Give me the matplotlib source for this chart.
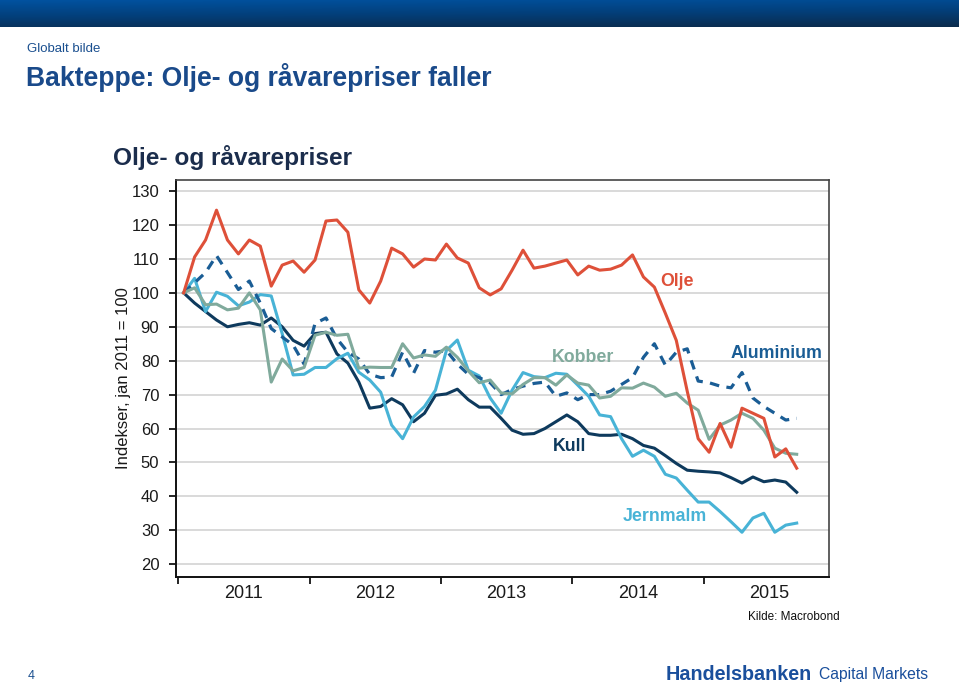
import numpy as np
import matplotlib
matplotlib.use('Agg')
import matplotlib.pyplot as plt
from matplotlib.colors import LinearSegmentedColormap

plt.rcParams['font.family'] = ['Liberation Sans', 'DejaVu Sans']

# monthly index, jan 2011 = 100 (jan 2011 - sep 2015)
olje = [100, 110.6, 115.6, 124.4, 115.6, 111.5, 115.6, 113.8, 102, 108.2,
        109.4, 106.1, 109.7, 121.2, 121.5, 117.9, 100.9, 97, 103.5, 113.2,
        111.5, 107.6, 110, 109.7, 114.4, 110.3, 108.8, 101.5, 99.4, 101.2,
        106.7, 112.6, 107.3, 107.9, 108.8, 109.7, 105.3, 107.9, 106.7, 107,
        108.2, 111.2, 104.7, 101.7, 94, 86, 71, 57, 53, 61.5,
        54.5, 66, 64.5, 63, 51.6, 54, 48.3]
aluminium = [100, 103, 106, 111, 106, 101, 103.5, 97, 89.5, 87,
             84.6, 79, 91, 92.6, 86.5, 82.5, 80.5, 76, 75, 75.2,
             82.5, 76.3, 83, 82.5, 83, 79, 76, 75, 73.5, 70,
             71.5, 72.5, 73.3, 73.7, 69.5, 70.5, 68.5, 70, 70, 71,
             73, 75, 81, 85, 78.7, 82.5, 83.5, 74, 73.5, 72.5,
             72, 76.5, 69, 66.5, 64.5, 62.5, 63]
kobber = [100, 101.5, 96.5, 96.7, 95, 95.5, 100, 95, 73.7, 80.5,
          77, 78, 87.5, 88.4, 87.5, 87.8, 77.8, 78.1, 78, 78,
          85, 80.8, 81.7, 81.3, 84, 81, 77, 73.5, 74.3, 70.5,
          70.2, 73, 75, 75, 72.8, 75.8, 73.4, 72.8, 69, 69.5,
          72, 71.9, 73.4, 72.2, 69.5, 70.4, 67.5, 65.4, 56.8, 61,
          62.5, 64.5, 63, 59.5, 54.2, 52.7, 52.4]
kull = [100, 97, 94.5, 92, 90, 90.7, 91.2, 90.5, 92.6, 90,
        86, 84.3, 88, 88.4, 82, 79.3, 73.7, 66, 66.5, 68.8,
        67, 62, 64.5, 69.8, 70.2, 71.6, 68.5, 66.3, 66.3, 63,
        59.5, 58.3, 58.5, 60, 62, 64, 62, 58.5, 58, 58,
        58.3, 57, 55, 54.2, 52, 49.7, 47.7, 47.4, 47.2, 46.9,
        45.5, 43.9, 45.7, 44.3, 44.8, 44.2, 41.2]
jernmalm = [100, 104.3, 94.5, 100.2, 99, 96.2, 97.3, 99.5, 99.1, 88,
            75.8, 76, 78, 78, 80.6, 82.2, 76.6, 74.3, 70.7, 61,
            57, 63.4, 66.5, 71.3, 83, 86.1, 77.2, 75.5, 69, 64.5,
            71.3, 76.5, 75.3, 75, 76.3, 76, 72.8, 69.5, 64, 63.5,
            57, 51.8, 53.6, 51.8, 46.5, 45.4, 41.8, 38.3, 38.3, 35.5,
            32.5, 29.4, 33.6, 35, 29.4, 31.5, 32.1]
years = ['2011', '2012', '2013', '2014', '2015']

W, H = 959, 686
fig = plt.figure(figsize=(W / 100.0, H / 100.0), dpi=100)
fig.patch.set_facecolor('white')

def fx(px):
    return px / float(W)

def fy(py):
    return 1 - py / float(H)

# banner on top
ban = fig.add_axes([0, fy(27), 1, 27.0 / H])
cmap = LinearSegmentedColormap.from_list('ban', ['#0152a0', '#033f7a', '#0b2b4c'])
g = np.linspace(0, 1, 60)[:, None] * np.ones((1, 200))
g = g + np.linspace(0, 0.25, 200)[None, :]
ban.imshow(g, aspect='auto', cmap=cmap, vmin=0, vmax=1.25, extent=[0, 1, 0, 1])
ban.axis('off')

blue = '#1a4f8f'
fig.text(fx(27), fy(49), 'Globalt bilde', fontsize=9.5, color=blue, va='center')
fig.text(fx(26), fy(78), 'Bakteppe: Olje- og råvarepriser faller', fontsize=19.1,
         fontweight='bold', color='#1a4a8a', va='center')
fig.text(fx(113), fy(158), 'Olje- og råvarepriser', fontsize=17.6, fontweight='bold',
         color='#1b2d4c', va='center')

# chart
ax = fig.add_axes([fx(176), fy(577), fx(829) - fx(176), (577 - 180) / float(H)])
x = np.arange(len(olje)) + 0.5

ax.plot(x, kull, color='#0e3a5d', lw=2.2)
ax.plot(x, jernmalm, color='#48b3d6', lw=2.2)
ax.plot(x, aluminium, color='#1a5d95', lw=2.3, dashes=(3, 2.3))
ax.plot(x, kobber, color='#80aa9c', lw=2.2)
ax.plot(x, olje, color='#de5039', lw=2.2)

ax.set_xlim(-0.2, 59.45)
ax.set_ylim(16.2, 133.3)
ax.set_yticks(np.arange(20, 131, 10))
ax.yaxis.grid(True, color='#cfcfcf', lw=1.1)
ax.set_axisbelow(True)
ax.set_xticks([0, 12, 24, 36, 48])
ax.set_xticklabels([])
ax.set_xticks([6, 18, 30, 42, 54], minor=True)
ax.set_xticklabels(years, minor=True, fontsize=13, color='#1a1a1a')
ax.tick_params(axis='x', which='minor', length=0, pad=6)
ax.tick_params(axis='x', which='major', length=5, width=1.2, direction='out')
ax.tick_params(axis='y', length=5, width=1.2, labelsize=12, labelcolor='#1a1a1a', pad=7)
for s in ['left', 'bottom']:
    ax.spines[s].set_color('#111111')
    ax.spines[s].set_linewidth(1.4)
for s in ['top', 'right']:
    ax.spines[s].set_color('#444444')
    ax.spines[s].set_linewidth(1.2)
ax.set_ylabel('Indekser, jan 2011 = 100', fontsize=12, color='#1a1a1a', labelpad=0.5)

# labels on the lines
ax.text(44.0, 103.5, 'Olje', color='#de5039', fontsize=12.8, fontweight='bold', va='center')
ax.text(50.5, 82.0, 'Aluminium', color='#1a5d95', fontsize=12.8, fontweight='bold', va='center')
ax.text(34.1, 80.8, 'Kobber', color='#80aa9c', fontsize=12.8, fontweight='bold', va='center')
ax.text(34.2, 54.8, 'Kull', color='#0e3a5d', fontsize=12.8, fontweight='bold', va='center')
ax.text(40.6, 33.9, 'Jernmalm', color='#48b3d6', fontsize=12.8, fontweight='bold', va='center')

fig.text(fx(748), fy(617), 'Kilde: Macrobond', fontsize=8.5, color='#111111', va='center')
fig.text(fx(28), fy(676), '4', fontsize=9, color=blue, va='center')
fig.text(fx(666), fy(675), 'Handelsbanken', fontsize=14.2, fontweight='bold',
         color='#1a4f9c', va='center')
fig.text(fx(819), fy(675), 'Capital Markets', fontsize=11.3, color='#1a4f9c', va='center')

fig.savefig('out.png', dpi=100)
